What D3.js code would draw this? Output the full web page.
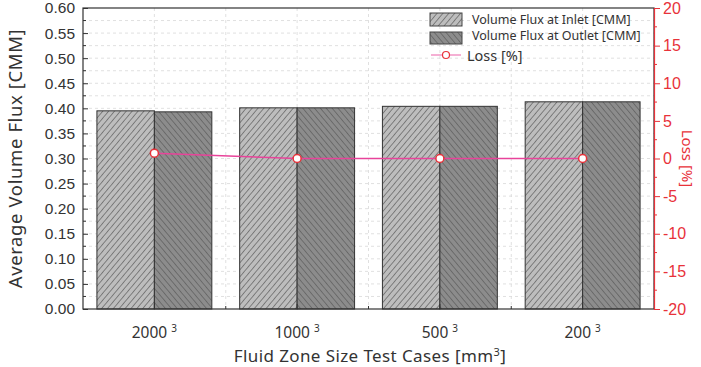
<!DOCTYPE html>
<html>
<head>
<meta charset="utf-8">
<script src="https://cdn.jsdelivr.net/npm/d3@7"></script>
<style>
  body { margin: 0; background: #fff; }
  svg { display: block; }
</style>
</head>
<body>
<div id="chart"></div>
<script>
// data
var cases = ["2000", "1000", "500", "200"];
var inletFlux = [0.395, 0.401, 0.404, 0.413];
var outletFlux = [0.393, 0.401, 0.404, 0.413];
var lossPct = [0.7, 0.0, 0.0, 0.0];
var fluxTicks = [0, 0.05, 0.1, 0.15, 0.2, 0.25, 0.3, 0.35, 0.4, 0.45, 0.5, 0.55, 0.6];
var lossTicks = [-20, -15, -10, -5, 0, 5, 10, 15, 20];

var W = 701, H = 367;
var margin = {top: 8, right: 47, bottom: 58, left: 83},
    width = W - margin.left - margin.right,
    height = H - margin.top - margin.bottom;

var red = "#e8323a", pink = "#e8439a";

var svg = d3.select("#chart").append("svg")
    .attr("width", W).attr("height", H);

// hatch patterns
var defs = svg.append("defs");
function hatch(id, bg, angle) {
  var p = defs.append("pattern")
    .attr("id", id)
    .attr("patternUnits", "userSpaceOnUse")
    .attr("width", 4.5).attr("height", 4.5)
    .attr("patternTransform", "rotate(" + angle + ")");
  p.append("rect").attr("width", 4.5).attr("height", 4.5).attr("fill", bg);
  p.append("line").attr("x1", 0).attr("y1", 0).attr("x2", 0).attr("y2", 4.5)
    .attr("stroke", "#5a5a5a").attr("stroke-width", 1.3);
}
hatch("inlet", "#bdbdbd", 40);
hatch("outlet", "#8c8c8c", -40);

var g = svg.append("g")
    .attr("transform", "translate(" + margin.left + "," + margin.top + ")");

var x = d3.scaleBand().domain(cases).range([0, width]).paddingInner(0.195).paddingOuter(0.0975);
var y = d3.scaleLinear().domain([0, 0.6]).range([height, 0]);
var y2 = d3.scaleLinear().domain([-20, 20]).range([height, 0]);

// grid
var minorY = d3.range(0, 0.6001, 0.025);
g.append("g").selectAll("line").data(minorY.slice(1, -1)).enter().append("line")
  .attr("x1", 0).attr("x2", width)
  .attr("y1", function(d) { return y(d); }).attr("y2", function(d) { return y(d); })
  .attr("stroke", "#d8d8d8").attr("stroke-width", 0.8).attr("stroke-dasharray", "3,3");
var step = width / cases.length;
var vgrid = d3.range(1, cases.length * 2).map(function(i) { return i * step / 2; });
g.append("g").selectAll("line").data(vgrid).enter().append("line")
  .attr("y1", 0).attr("y2", height)
  .attr("x1", function(d) { return d; }).attr("x2", function(d) { return d; })
  .attr("stroke", "#d8d8d8").attr("stroke-width", 0.8).attr("stroke-dasharray", "3,3");

// bars
var half = x.bandwidth() / 2;
g.selectAll(".inlet").data(cases).enter().append("rect")
  .attr("x", function(d) { return x(d); })
  .attr("y", function(d, i) { return y(inletFlux[i]); })
  .attr("width", half)
  .attr("height", function(d, i) { return height - y(inletFlux[i]); })
  .attr("fill", "url(#inlet)").attr("stroke", "#333").attr("stroke-width", 1);
g.selectAll(".outlet").data(cases).enter().append("rect")
  .attr("x", function(d) { return x(d) + half; })
  .attr("y", function(d, i) { return y(outletFlux[i]); })
  .attr("width", half)
  .attr("height", function(d, i) { return height - y(outletFlux[i]); })
  .attr("fill", "url(#outlet)").attr("stroke", "#333").attr("stroke-width", 1);

// frame
g.append("rect").attr("width", width).attr("height", height)
  .attr("fill", "none").attr("stroke", "#333").attr("stroke-width", 1.2);

// left axis (ticks inward)
var yAxis = g.append("g")
  .call(d3.axisLeft(y).tickValues(fluxTicks).tickFormat(d3.format(".2f")).tickSize(-5).tickPadding(8));
yAxis.select(".domain").remove();
yAxis.selectAll("text").attr("font-family", "Liberation Sans, Arial, sans-serif")
  .attr("font-size", 15.5).attr("fill", "#333");
yAxis.selectAll("line").attr("stroke", "#333");
g.append("g").selectAll("line").data(minorY.filter(function(d, i) { return i % 2 === 1; }))
  .enter().append("line")
  .attr("x1", 0).attr("x2", 3)
  .attr("y1", function(d) { return y(d); }).attr("y2", function(d) { return y(d); })
  .attr("stroke", "#333");

// bottom axis
var xAxis = g.append("g").attr("transform", "translate(0," + height + ")")
  .call(d3.axisBottom(x).tickSize(-5).tickFormat(""));
xAxis.select(".domain").remove();
xAxis.selectAll("line").attr("stroke", "#333");
g.append("g").selectAll("line").data(d3.range(1, cases.length).map(function(i) { return i * step; }))
  .enter().append("line")
  .attr("x1", function(d) { return d; }).attr("x2", function(d) { return d; })
  .attr("y1", height).attr("y2", height - 3).attr("stroke", "#333");
var xl = g.append("g").selectAll("text").data(cases).enter().append("text")
  .attr("x", function(d) { return x(d) + half; })
  .attr("y", height + 29)
  .attr("text-anchor", "middle")
  .attr("font-family", "Noto Sans, sans-serif").attr("font-size", 15.5).attr("fill", "#333");
xl.append("tspan").text(function(d) { return d + " "; });
xl.append("tspan").attr("font-size", 10).attr("dy", -6).text("3");

// right axis (red, ticks outward)
var rAxis = g.append("g").attr("transform", "translate(" + width + ",0)")
  .call(d3.axisRight(y2).tickValues(lossTicks).tickFormat(function(d) { return String(d); })
    .tickSize(6).tickPadding(3));
rAxis.select(".domain").attr("stroke", red).attr("stroke-width", 1.2);
rAxis.selectAll("line").attr("stroke", red);
rAxis.selectAll("text").attr("font-family", "Liberation Sans, Arial, sans-serif")
  .attr("font-size", 16).attr("fill", red);
g.append("g").selectAll("line").data(d3.range(-17.5, 20, 5)).enter().append("line")
  .attr("x1", width).attr("x2", width + 3)
  .attr("y1", function(d) { return y2(d); }).attr("y2", function(d) { return y2(d); })
  .attr("stroke", red);

// loss line
var line = d3.line()
  .x(function(d, i) { return x(cases[i]) + half; })
  .y(function(d) { return y2(d); });
g.append("path").datum(lossPct).attr("d", line)
  .attr("fill", "none").attr("stroke", pink).attr("stroke-width", 1.5);
g.selectAll(".pt").data(lossPct).enter().append("circle")
  .attr("cx", function(d, i) { return x(cases[i]) + half; })
  .attr("cy", function(d) { return y2(d); })
  .attr("r", 4).attr("fill", "#fff").attr("stroke", red).attr("stroke-width", 1.5);

// axis titles
svg.append("text")
  .attr("transform", "translate(22," + (margin.top + height / 2) + ") rotate(-90)")
  .attr("text-anchor", "middle")
  .attr("font-family", "Noto Sans, sans-serif").attr("font-size", 18.5).attr("fill", "#333")
  .attr("letter-spacing", 0.6)
  .text("Average Volume Flux [CMM]");
svg.append("text")
  .attr("transform", "translate(682," + (margin.top + height / 2) + ") rotate(90)")
  .attr("text-anchor", "middle")
  .attr("font-family", "Noto Sans, sans-serif").attr("font-size", 15).attr("fill", red)
  .text("Loss [%]");
var xt = svg.append("text")
  .attr("x", 370).attr("y", H - 5)
  .attr("text-anchor", "middle")
  .attr("font-family", "Noto Sans, sans-serif").attr("font-size", 17).attr("fill", "#333")
  .attr("letter-spacing", 0.4);
xt.append("tspan").text("Fluid Zone Size Test Cases  [mm");
xt.append("tspan").attr("font-size", 11).attr("dy", -6).text("3");
xt.append("tspan").attr("dy", 6).text("]");

// legend
var lg = svg.append("g").attr("transform", "translate(430,0)");
lg.append("rect").attr("x", 0).attr("y", 13).attr("width", 32).attr("height", 13)
  .attr("fill", "url(#inlet)").attr("stroke", "#444");
lg.append("rect").attr("x", 0).attr("y", 32).attr("width", 32).attr("height", 12)
  .attr("fill", "url(#outlet)").attr("stroke", "#444");
lg.append("line").attr("x1", 1).attr("x2", 31).attr("y1", 55).attr("y2", 55)
  .attr("stroke", pink).attr("stroke-width", 1.2).attr("opacity", 0.7);
lg.append("circle").attr("cx", 16).attr("cy", 55).attr("r", 3.5)
  .attr("fill", "#fff").attr("stroke", red).attr("stroke-width", 1.2);
var legendText = ["Volume Flux at Inlet [CMM]", "Volume Flux at Outlet [CMM]"];
lg.selectAll(".lt").data(legendText).enter().append("text")
  .attr("x", 42).attr("y", function(d, i) { return 24 + i * 16; })
  .attr("font-family", "Noto Sans, sans-serif").attr("font-size", 12.5).attr("fill", "#333")
  .text(function(d) { return d; });
lg.append("text").attr("x", 37).attr("y", 61)
  .attr("font-family", "Noto Sans, sans-serif").attr("font-size", 14.5).attr("fill", "#333")
  .text("Loss [%]");
</script>
</body>
</html>
